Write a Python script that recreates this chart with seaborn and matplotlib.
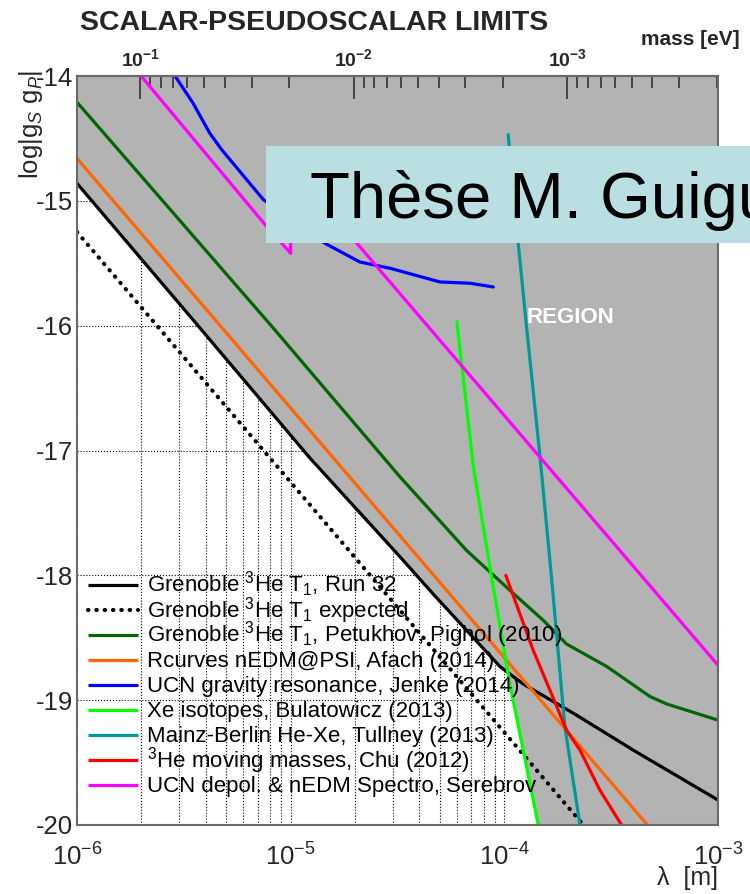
import numpy as np
import matplotlib
matplotlib.use("Agg")
import matplotlib.pyplot as plt
import seaborn as sns
from matplotlib.ticker import (LogLocator, NullFormatter, FuncFormatter,
                               MultipleLocator, LogFormatterSciNotation, FixedLocator)
from matplotlib.patches import Rectangle

# ---------------- data (log10 lambda [m], log10 |gS gP|) ----------------
run32_loglam = [-6.0, -5.456, -4.91, -4.489, -4.333, -4.021, -3.912, -3.662, -3.397, -3.0]
run32_g = [-14.86, -15.955, -17.06, -17.85, -18.15, -18.73, -18.87, -19.12, -19.40, -19.80]

expected_loglam = [-6.0, -3.63]
expected_g = [-15.25, -20.0]

petukhov_loglam = [-6.0, -5.081, -4.489, -4.177, -3.974, -3.818, -3.709, -3.521, -3.319, -3.241, -3.0]
petukhov_g = [-14.21, -16.02, -17.21, -17.80, -18.12, -18.36, -18.55, -18.73, -18.97, -19.03, -19.16]

afach_loglam = [-6.0, -3.33]
afach_g = [-14.66, -20.0]

jenke_loglam = [-5.541, -5.456, -5.378, -5.323, -5.128, -4.84, -4.676, -4.535, -4.301, -4.161, -4.052]
jenke_g = [-14.0, -14.22, -14.46, -14.59, -14.99, -15.34, -15.49, -15.54, -15.65, -15.66, -15.69]

bulatowicz_loglam = [-4.222, -4.2, -4.145, -4.06, -3.974, -3.841]
bulatowicz_g = [-15.97, -16.30, -17.13, -18.01, -18.87, -20.0]

tullney_loglam = [-3.982, -3.935, -3.896, -3.833, -3.779, -3.717, -3.646]
tullney_g = [-14.47, -15.34, -16.01, -17.05, -18.02, -19.21, -20.0]

chu_loglam = [-3.993, -3.865, -3.779, -3.709, -3.646, -3.553, -3.444]
chu_g = [-18.0, -18.60, -18.95, -19.24, -19.40, -19.72, -20.02]

serebrov_loglam = [-5.70, -5.12, -5.0, -5.0, -3.0]
serebrov_g = [-14.0, -15.19, -15.42, -14.72, -18.72]

mass_ticks = [1e-1, 1e-2, 1e-3]

labels = [
    r"Grenoble $^{3}$He T$_{1}$, Run 32",
    r"Grenoble $^{3}$He T$_{1}$ expected",
    r"Grenoble $^{3}$He T$_{1}$, Petukhov, Pighol (2010)",
    "Rcurves nEDM@PSI, Afach (2014)",
    "UCN gravity resonance, Jenke (2014)",
    "Xe isotopes, Bulatowicz (2013)",
    "Mainz-Berlin He-Xe, Tullney (2013)",
    r"$^{3}$He moving masses, Chu (2012)",
    "UCN depol. & nEDM Spectro, Serebrov",
]
colors = ["#000000", "#000000", "#006600", "#ff6600", "#0000ff",
          "#00ff00", "#009999", "#ff0000", "#ff00ff"]

curves = [
    (run32_loglam, run32_g),
    (expected_loglam, expected_g),
    (petukhov_loglam, petukhov_g),
    (afach_loglam, afach_g),
    (jenke_loglam, jenke_g),
    (bulatowicz_loglam, bulatowicz_g),
    (tullney_loglam, tullney_g),
    (chu_loglam, chu_g),
    (serebrov_loglam, serebrov_g),
]

HBARC = 1.97327e-7  # eV m

# ---------------- style ----------------
sns.set_style("white")
plt.rcParams["font.family"] = ["Liberation Sans", "DejaVu Sans"]
plt.rcParams["mathtext.fontset"] = "custom"
plt.rcParams["mathtext.rm"] = "Liberation Sans"
plt.rcParams["mathtext.it"] = "Liberation Sans:italic"
plt.rcParams["mathtext.bf"] = "Liberation Sans:bold"
plt.rcParams["axes.unicode_minus"] = False

W, H = 750, 894
fig = plt.figure(figsize=(W / 100, H / 100), dpi=100)
rect = [77 / W, 69 / H, 641 / W, 749 / H]

# background axes: grid + excluded region
ax_bg = fig.add_axes(rect)
ax = fig.add_axes(rect, sharex=ax_bg, sharey=ax_bg)
ax.patch.set_alpha(0)

ax.set_xscale("log")
ax.set_xlim(1e-6, 1e-3)
ax.set_ylim(-20, -14)
ax.xaxis.set_major_locator(LogLocator(base=10))
ax.xaxis.set_minor_locator(LogLocator(base=10, subs=np.arange(2, 10)))
ax.xaxis.set_major_formatter(LogFormatterSciNotation())
ax.xaxis.set_minor_formatter(NullFormatter())
ax.yaxis.set_major_locator(MultipleLocator(1))
ax.yaxis.set_minor_locator(MultipleLocator(0.2))

ax_bg.set_axisbelow(True)
ax_bg.grid(True, which="both", axis="x", ls=":", color="black", lw=0.8)
ax_bg.grid(True, which="major", axis="y", ls=":", color="black", lw=0.8)
ax_bg.tick_params(which="both", length=0, labelbottom=False, labelleft=False)
for s in ax_bg.spines.values():
    s.set_visible(False)

# excluded region = union above all limit curves
grid = np.linspace(-6, -3, 1501)
stack = []
for i, (lx, g) in enumerate(curves):
    if i == 1:
        continue
    right = -21.0 if g[-1] <= -19.99 else np.nan
    stack.append(np.interp(grid, lx, g, left=np.nan, right=right))
boundary = np.nanmin(np.vstack(stack), axis=0)
ax_bg.fill_between(10 ** grid, boundary, -14, color="#b3b3b3", lw=0, zorder=1)

# curves
dotted = dict(linestyle=(0, (0.1, 1.9)), dash_capstyle="round", lw=3.0)
for (lx, g), lab, c in zip(curves, labels, colors):
    kw = dict(color=c, lw=2.3, sort=False, estimator=None, ax=ax, legend=False)
    if "expected" in lab:
        kw.update(dotted)
    sns.lineplot(x=10 ** np.array(lx), y=np.array(g), **kw)

# legend (drawn row by row for even ROOT-like spacing)
AX_W, AX_H, AX_TOP, AX_LEFT = 641.0, 749.0, 76.0, 77.0
for i, (lab, c) in enumerate(zip(labels, colors)):
    y_line = 585 + 25.0 * i
    ya = 1 - (y_line - AX_TOP) / AX_H
    yb = 1 - (y_line + 7 - AX_TOP) / AX_H
    style = dict(color=c, lw=2.3)
    if "expected" in lab:
        style.update(dotted)
    ax.plot([(88 - AX_LEFT) / AX_W, (138 - AX_LEFT) / AX_W], [ya, ya],
            transform=ax.transAxes, solid_capstyle="butt", **style)
    ax.text((147 - AX_LEFT) / AX_W, yb, lab, transform=ax.transAxes,
            fontsize=16, va="baseline", ha="left", color="black")

ax.text(10 ** -3.6907, -15.931, "REGION", color="white", weight="bold",
        fontsize=16, ha="center", va="center")

# axes styling
tick_col = "#333333"
for s in ax.spines.values():
    s.set_color("#6a6a6a")
    s.set_linewidth(1.5)
ax.tick_params(axis="x", which="major", direction="in", length=14.4, width=1.2,
               color=tick_col, labelsize=18.5, pad=13, top=False)
ax.tick_params(axis="x", which="minor", direction="in", length=7.2, width=1.2,
               color=tick_col, top=False)
ax.tick_params(axis="y", which="major", direction="in", length=15, width=1.2,
               color=tick_col, labelsize=18.5, pad=3, right=False)
ax.tick_params(axis="y", which="minor", direction="in", length=7.2, width=1.2,
               color=tick_col, right=False)

ax.set_xlabel("λ  [m]", fontsize=18, loc="right")
ax.xaxis.set_label_coords(1.0, -0.0547)
ax.set_ylabel(r"log|g$_{S}$ g$_{P}$|", fontsize=18.5, loc="top")
ax.yaxis.set_label_coords(-0.05, 1.008)

# top axis: mass
sec = ax.secondary_xaxis("top", functions=(lambda x: HBARC / x, lambda m: HBARC / m))
sec.xaxis.set_major_locator(FixedLocator(mass_ticks))
sec.xaxis.set_minor_locator(LogLocator(base=10, subs=np.arange(2, 10)))
sec.xaxis.set_major_formatter(
    FuncFormatter(lambda v, pos: r"$\mathbf{10^{%d}}$" % int(round(np.log10(v)))))
sec.xaxis.set_minor_formatter(NullFormatter())
sec.tick_params(which="major", direction="in", length=16.5, width=1.2,
                color=tick_col, labelsize=14, pad=4)
sec.tick_params(which="minor", direction="in", length=8.6, width=1.2, color=tick_col)
sec.spines["top"].set_color("#6a6a6a")
sec.spines["top"].set_linewidth(1.5)

# figure texts
fig.text(80 / W, 1 - 30 / H, "SCALAR-PSEUDOSCALAR LIMITS", fontsize=20.5,
         weight="bold", va="baseline", ha="left")
fig.text(740 / W, 1 - 45 / H, "mass [eV]", fontsize=15, weight="bold",
         va="baseline", ha="right")

# watermark
fig.add_artist(Rectangle((266 / W, 1 - 243 / H), 1 - 266 / W + 0.01, 97 / H,
                         transform=fig.transFigure, facecolor="#b9dfe3",
                         edgecolor="none", zorder=10))
fig.text(310 / W, 1 - 218 / H, "Thèse M. Guigue", fontsize=47, va="baseline",
         ha="left", zorder=11, color="black")

fig.savefig("out.png", dpi=100)
